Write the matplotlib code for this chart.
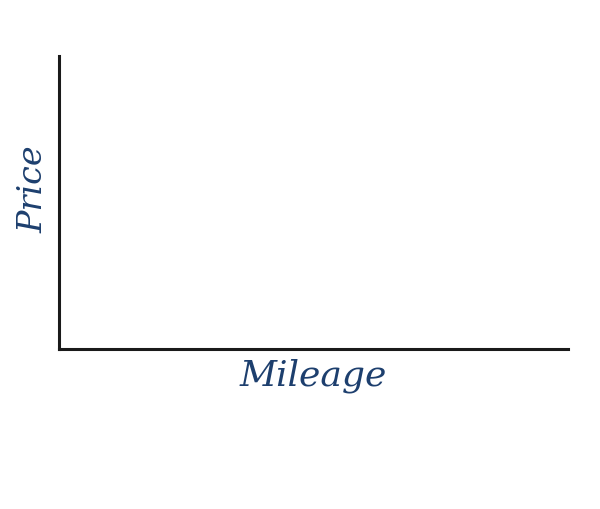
import matplotlib.pyplot as plt

# Ejes vacíos: solo etiquetas, sin datos
mileage = []
price = []
x_label = "Mileage"
y_label = "Price"

label_color = "#1d3f6e"

fig = plt.figure(figsize=(6, 5.1), dpi=100)
ax = fig.add_axes([0.0983, 0.3137, 0.848, 0.575])

ax.plot(mileage, price)

ax.set_xlim(0, 1)
ax.set_ylim(0, 1)
ax.set_xticks([])
ax.set_yticks([])

for side in ["top", "right"]:
    ax.spines[side].set_visible(False)
for side in ["left", "bottom"]:
    ax.spines[side].set_linewidth(2.2)
    ax.spines[side].set_color("#1a1a1a")

ax.set_xlabel(x_label, fontsize=26, family="DejaVu Serif", style="italic",
              color=label_color, labelpad=6)
ax.set_ylabel(y_label, fontsize=24, family="DejaVu Serif", style="italic",
              color=label_color)
ax.yaxis.set_label_coords(-0.018, 0.55)

fig.savefig("out.png", dpi=100)
